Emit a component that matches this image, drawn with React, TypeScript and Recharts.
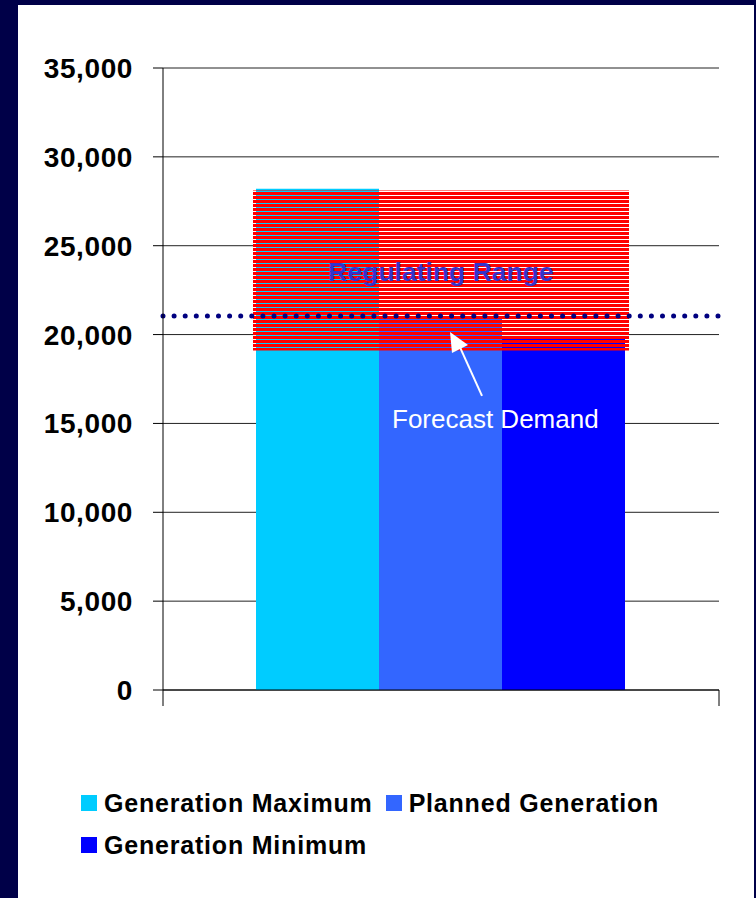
import React from "react";
import { BarChart, Bar, XAxis, YAxis, CartesianGrid, Legend, ReferenceLine } from "recharts";

const FONT = '"Liberation Sans", Arial, sans-serif';

// one category, three series plus the regulating range drawn over them
const categories = [""];
const generationMaximum = [28200];
const plannedGeneration = [21000];
const generationMinimum = [19750];
const regulatingLow = [19100];
const regulatingHigh = [28100];
const forecastDemand = 21050;
const yTicks = [0, 5000, 10000, 15000, 20000, 25000, 30000, 35000];

const series = [
  { key: "max", name: "Generation Maximum", color: "#00CCFF" },
  { key: "planned", name: "Planned Generation", color: "#3366FF" },
  { key: "min", name: "Generation Minimum", color: "#0000FF" },
];
const legendRows = [[0, 1], [2]];

const data = categories.map((name, i) => ({
  name,
  max: generationMaximum[i],
  planned: plannedGeneration[i],
  min: generationMinimum[i],
  range: [regulatingLow[i], regulatingHigh[i]],
}));

// Excel style: tick marks sit on the category edges, not the centre
function EdgeTick(props: any) {
  const { x, y, width, payload } = props;
  const half = payload && payload.offset ? payload.offset : width / 2;
  return (
    <g>
      <line x1={x - half} y1={y} x2={x - half} y2={y + 16} stroke="#000" />
      <line x1={x + half} y1={y} x2={x + half} y2={y + 16} stroke="#000" />
    </g>
  );
}

function RangeLabel(props: any) {
  const { x, y, width } = props;
  return (
    <text
      x={x + width / 2}
      y={y + 90}
      textAnchor="middle"
      fill="#3333CC"
      fontFamily={FONT}
      fontSize={26.5}
      fontWeight="bold"
    >
      Regulating Range
    </text>
  );
}

function ForecastLabel(props: any) {
  const vb = props.viewBox;
  const x0 = vb.x;
  const y0 = vb.y;
  const tx = x0 + 287;
  const ty = y0 + 16;
  return (
    <g>
      <line x1={tx + 8} y1={ty + 11} x2={tx + 32} y2={ty + 64} stroke="#fff" strokeWidth={2} />
      <polygon points={`${tx},${ty} ${tx + 18},${ty + 13} ${tx + 2},${ty + 21}`} fill="#fff" />
      <text x={x0 + 229} y={y0 + 112} fill="#fff" fontSize={26} fontFamily={FONT}>
        Forecast Demand
      </text>
    </g>
  );
}

function LegendContent() {
  return (
    <div style={{ fontFamily: FONT, fontWeight: "bold", fontSize: 25, letterSpacing: 0.8, color: "#000" }}>
      {legendRows.map((row, r) => (
        <div key={r} style={{ display: "flex", alignItems: "center", height: 42 }}>
          {row.map((i) => (
            <div key={i} style={{ display: "flex", alignItems: "center", marginRight: 13 }}>
              <span
                style={{ display: "inline-block", width: 16, height: 16, background: series[i].color, marginRight: 7 }}
              />
              <span style={{ whiteSpace: "nowrap" }}>{series[i].name}</span>
            </div>
          ))}
        </div>
      ))}
    </div>
  );
}

export default function App() {
  return (
    <div style={{ position: "absolute", left: 0, top: 0, width: 756, height: 898, background: "#000048" }}>
      <div style={{ position: "absolute", left: 18, top: 5, width: 736, height: 893, background: "#fff" }} />
      <div style={{ position: "absolute", left: 0, top: 0 }}>
        <BarChart
          width={756}
          height={898}
          data={data}
          barGap={0}
          barCategoryGap={93}
          margin={{ top: 68, right: 37, left: 0, bottom: 192 }}
        >
          <defs>
            <pattern id="hatch" patternUnits="userSpaceOnUse" width={8} height={4}>
              <rect x={0} y={0} width={8} height={3} fill="#FF0000" />
            </pattern>
          </defs>
          <CartesianGrid vertical={false} stroke="#222" />
          <XAxis
            dataKey="name"
            height={16}
            tickSize={0}
            tickMargin={0}
            tickLine={false}
            axisLine={{ stroke: "#000" }}
            tick={<EdgeTick />}
          />
          <XAxis xAxisId="overlay" dataKey="name" orientation="top" hide />
          <YAxis
            width={163}
            domain={[0, 35000]}
            ticks={yTicks}
            tickSize={10}
            tickMargin={20}
            axisLine={{ stroke: "#000" }}
            tickLine={{ stroke: "#000" }}
            tick={{ fill: "#000", fontSize: 28, fontWeight: "bold", fontFamily: FONT, letterSpacing: 0.6 }}
            tickFormatter={(v: number) => v.toLocaleString("en-US")}
          />
          {series.map((s) => (
            <Bar key={s.key} dataKey={s.key} name={s.name} fill={s.color} isAnimationActive={false} />
          ))}
          <Bar
            xAxisId="overlay"
            dataKey="range"
            name="Regulating Range"
            fill="url(#hatch)"
            barSize={376}
            isAnimationActive={false}
            label={(p: any) => <RangeLabel {...p} />}
          />
          <ReferenceLine
            y={forecastDemand}
            stroke="#000080"
            strokeWidth={5}
            strokeDasharray="0 11.1"
            strokeLinecap="round"
            label={(p: any) => <ForecastLabel {...p} />}
          />
          <Legend
            verticalAlign="middle"
            align="center"
            layout="horizontal"
            content={() => <LegendContent />}
            wrapperStyle={{ top: 782, left: 81, width: 640 }}
          />
        </BarChart>
      </div>
    </div>
  );
}
